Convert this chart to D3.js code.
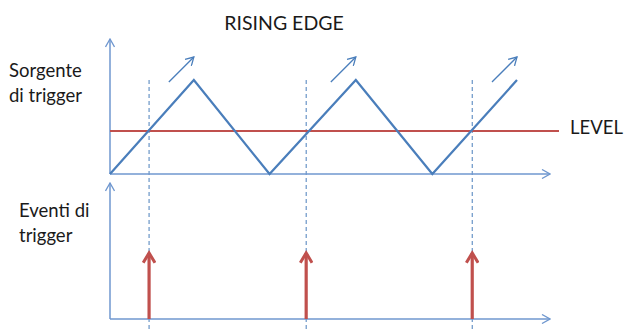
<!DOCTYPE html>
<html><head><meta charset="utf-8">
<script src="https://cdn.jsdelivr.net/npm/d3@7/dist/d3.min.js"></script>
<style>body{margin:0;background:#fff}svg{display:block}</style>
</head><body><svg id="c" width="627" height="329"></svg>
<script>
// data
const signalT = [0, 0.515, 0.98, 1.51, 1.98, 2.5];
const signalV = [0, 1, 0, 1, 0, 1];
const level = 0.457;
const triggerT = [0.24, 1.205, 2.225];
const risingPeaks = [0.515, 1.51, 2.5];
const labels = {title: "RISING EDGE", top: ["Sorgente", "di trigger"], bottom: ["Eventi di", "trigger"], level: "LEVEL"};

const svg = d3.select("#c");
const blue = "#4a7ebb", axisBlue = "#6f97cf", red = "#c0504d";
const font = "Lato, 'Open Sans', sans-serif";

const x = d3.scaleLinear().domain([0, 2.5]).range([110, 517]);
const yTop = d3.scaleLinear().domain([0, 1]).range([174, 80]);
const yBot = d3.scaleLinear().domain([0, 1]).range([319, 253]);

const defs = svg.append("defs");
function openHead(id, color) {
  defs.append("marker").attr("id", id).attr("viewBox", "0 0 10 10").attr("refX", 9).attr("refY", 5)
    .attr("markerWidth", 10).attr("markerHeight", 10).attr("markerUnits", "userSpaceOnUse").attr("orient", "auto")
    .append("path").attr("d", "M1,0.5 L9,5 L1,9.5").attr("fill", "none").attr("stroke", color).attr("stroke-width", 1.3);
}
openHead("ax", axisBlue);
openHead("sm", blue);
defs.append("marker").attr("id", "rd").attr("viewBox", "0 0 10 10").attr("refX", 8).attr("refY", 5)
  .attr("markerWidth", 14).attr("markerHeight", 14).attr("markerUnits", "userSpaceOnUse").attr("orient", "auto")
  .append("path").attr("d", "M1,0.8 L8,5 L1,9.2").attr("fill", "none").attr("stroke", red).attr("stroke-width", 2.2).attr("stroke-linejoin","miter");

// dashed trigger guides
svg.selectAll("line.guide").data(triggerT).join("line").attr("class", "guide")
  .attr("x1", d => x(d)).attr("x2", d => x(d)).attr("y1", yTop(1)).attr("y2", 329)
  .attr("stroke", blue).attr("stroke-width", 1).attr("stroke-dasharray", "4,3");

// axes
const xEnd = x.invert(550);
function axisLine(x1, y1, x2, y2) {
  svg.append("line").attr("x1", x1).attr("y1", y1).attr("x2", x2).attr("y2", y2)
    .attr("stroke", axisBlue).attr("stroke-width", 1.5).attr("marker-end", "url(#ax)");
}
axisLine(x(0), yTop(0), x(0), 39);
axisLine(x(0), yTop(0), x(xEnd), yTop(0));
axisLine(x(0), yBot(0), x(0), 183);
axisLine(x(0), yBot(0), x(xEnd), yBot(0));

// level
svg.append("line").attr("x1", x(0)).attr("x2", 559).attr("y1", yTop(level)).attr("y2", yTop(level))
  .attr("stroke", red).attr("stroke-width", 2);

// signal
const pts = signalT.map((t, i) => [x(t), yTop(signalV[i])]);
svg.append("path").attr("d", d3.line()(pts)).attr("fill", "none").attr("stroke", blue).attr("stroke-width", 2.2).attr("stroke-linejoin", "miter");

// small rising arrows
svg.selectAll("line.sm").data(risingPeaks).join("line").attr("class", "sm")
  .attr("x1", d => x(d) - 25).attr("y1", yTop(1) + 2).attr("x2", d => x(d)).attr("y2", yTop(1) - 23)
  .attr("stroke", blue).attr("stroke-width", 1.3).attr("marker-end", "url(#sm)");

// trigger events
svg.selectAll("line.ev").data(triggerT).join("line").attr("class", "ev")
  .attr("x1", d => x(d)).attr("x2", d => x(d)).attr("y1", yBot(0)).attr("y2", yBot(1))
  .attr("stroke", red).attr("stroke-width", 3.2).attr("marker-end", "url(#rd)");

// texts
const txt = (s, tx, ty, anchor, size) => svg.append("text").attr("x", tx).attr("y", ty).attr("text-anchor", anchor || "start")
  .attr("font-family", font).attr("font-size", size || 18.5).attr("fill", "#1a1a1a").text(s);
txt(labels.title, 284, 30, "middle", 19.5);
txt(labels.top[0], 9, 77);
txt(labels.top[1], 9, 102);
txt(labels.bottom[0], 19, 217);
txt(labels.bottom[1], 19, 242);
txt(labels.level, 570, 134, "start", 18.5);
</script></body></html>
